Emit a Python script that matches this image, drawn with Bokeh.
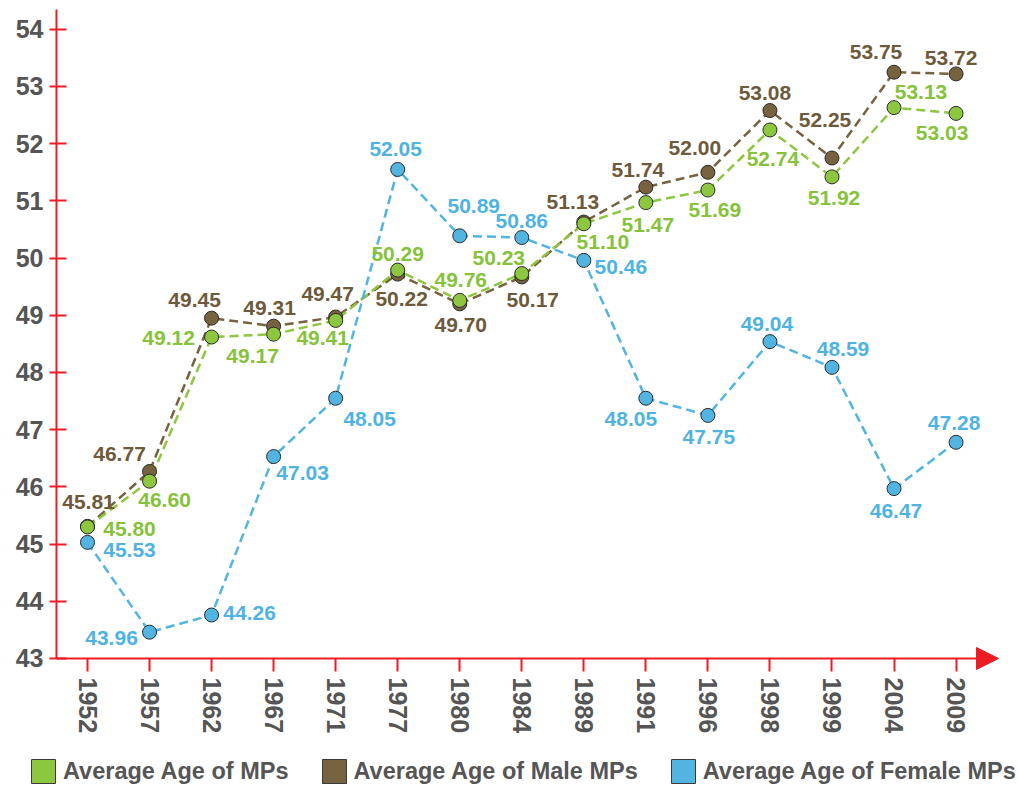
from bokeh.plotting import figure
from bokeh.models import (ColumnDataSource, FixedTicker, Range1d, Arrow, NormalHead,
                          Legend, LegendItem)
from bokeh.core.properties import value
from bokeh.embed import file_html
from bokeh.resources import INLINE

# ---------------- data ----------------
years = ["1952", "1957", "1962", "1967", "1971", "1977", "1980", "1984",
         "1989", "1991", "1996", "1998", "1999", "2004", "2009"]
avg_all = [45.80, 46.60, 49.12, 49.17, 49.41, 50.29, 49.76, 50.23,
           51.10, 51.47, 51.69, 52.74, 51.92, 53.13, 53.03]
avg_male = [45.81, 46.77, 49.45, 49.31, 49.47, 50.22, 49.70, 50.17,
            51.13, 51.74, 52.00, 53.08, 52.25, 53.75, 53.72]
avg_female = [45.53, 43.96, 44.26, 47.03, 48.05, 52.05, 50.89, 50.86,
              50.46, 48.05, 47.75, 49.04, 48.59, 46.47, 47.28]
y_tick_labels = [43, 44, 45, 46, 47, 48, 49, 50, 51, 52, 53, 54]
series_names = ["Average Age of MPs", "Average Age of Male MPs",
                "Average Age of Female MPs"]

# ---------------- styling ----------------
GREEN, BROWN, BLUE = "#8dc63f", "#77623f", "#52b4e0"
GREEN_TXT, BROWN_TXT, BLUE_TXT = "#86c23a", "#6e5a3a", "#4fb3e1"
RED = "#ed1c24"
GRAY = "#555555"
FONT = "Liberation Sans"
# in the original chart each tick label sits half a unit below its data position
TICK_SHIFT = 0.5
Y_BASE = y_tick_labels[0] + TICK_SHIFT        # where the x axis line is drawn
Y_TOP = 54.846                                # top end of the y axis line
X_LEFT = -0.5                                 # where the y axis line is drawn
X_TIP = 14.684                                # tip of the x axis arrow
# the frame covers the whole canvas; axes are placed at fixed locations inside it
XR = (-1.4023, 15.0226)
YR = (41.2622, 55.0035)
NAN = float("nan")

# label placement offsets (screen px) for each point's value label
all_dx = [42, 15, -43, -21, -13, 0, 1, -23, 19, 2, 7, 3, 2, 27, -14]
all_dy = [2, 19, 1, 22, 18, -16, -20, -16, 18, 22, 20, 29, 21, -16, 20]
male_dx = [1, -30, -17, -4, -8, 4, 1, 11, -11, -8, -13, -5, -7, -18, -5]
male_dy = [-24, -17, -18, -18, -23, 25, 21, 23, -20, -17, -24, -18, -38, -20, -16]
fem_dx = [42, -38, 38, 29, 34, -2, 14, 0, 37, -15, 1, -3, 11, 2, -2]
fem_dy = [8, 6, -2, 16, 21, -20, -30, -17, 7, 21, 22, -18, -18, 22, -19]

xs = list(range(len(years)))

p = figure(width=1019, height=786,
           x_range=Range1d(*XR), y_range=Range1d(*YR),
           output_backend="svg", toolbar_location=None,
           min_border_left=0, min_border_top=0, min_border_right=0,
           min_border_bottom=0)
p.outline_line_color = None
p.grid.visible = False
p.background_fill_color = "white"

# axes
p.xaxis.fixed_location = Y_BASE
p.yaxis.fixed_location = X_LEFT
p.xaxis.ticker = FixedTicker(ticks=xs)
p.xaxis.major_label_overrides = {i: y for i, y in enumerate(years)}
p.xaxis.major_label_orientation = "vertical"
p.yaxis.ticker = FixedTicker(ticks=[t + TICK_SHIFT for t in y_tick_labels])
p.yaxis.major_label_overrides = {t + TICK_SHIFT: str(t) for t in y_tick_labels}
for ax in (p.xaxis, p.yaxis):
    ax.axis_line_color = None
    ax.major_tick_line_color = RED
    ax.major_tick_line_width = 2
    ax.minor_tick_line_color = None
    ax.major_label_text_font = FONT
    ax.major_label_text_font_style = "bold"
    ax.major_label_text_font_size = "25px"
    ax.major_label_text_color = GRAY
p.xaxis.major_tick_in = 0
p.xaxis.major_tick_out = 13
p.xaxis.major_label_standoff = 6
p.yaxis.major_tick_in = 10
p.yaxis.major_tick_out = 7
p.yaxis.major_label_standoff = 6

# axis lines: y axis line and x axis line with arrow head
p.segment(x0=[X_LEFT], y0=[Y_BASE], x1=[X_LEFT], y1=[Y_TOP], line_color=RED,
          line_width=2)
p.add_layout(Arrow(x_start=X_LEFT, y_start=Y_BASE, x_end=X_TIP, y_end=Y_BASE,
                   line_color=RED, line_width=2,
                   end=NormalHead(size=22, fill_color=RED, line_color=RED)))

series = [
    (avg_male, BROWN, BROWN_TXT, male_dx, male_dy),
    (avg_all, GREEN, GREEN_TXT, all_dx, all_dy),
    (avg_female, BLUE, BLUE_TXT, fem_dx, fem_dy),
]
sources = []
for vals, col, tcol, dx, dy in series:
    src = ColumnDataSource(dict(x=xs, y=vals, lab=[f"{v:.2f}" for v in vals],
                                dx=dx, dy=dy))
    sources.append(src)
    p.line("x", "y", source=src, line_color=col, line_width=2.5, line_dash="9 5")
for (vals, col, tcol, dx, dy), src in zip(series, sources):
    p.scatter("x", "y", source=src, size=14, fill_color=col,
              line_color="#2a2a2a", line_width=1)
    p.text("x", "y", text="lab", source=src, x_offset="dx", y_offset="dy",
           text_align="center", text_baseline="middle", text_color=tcol,
           text_font=value(FONT), text_font_style="bold", text_font_size="21px")

# legend (swatch renderers hold a single undrawable NaN quad)
leg_colors = [GREEN, BROWN, BLUE]
items = []
for name, col in zip(series_names, leg_colors):
    r = p.quad(left=[NAN], right=[NAN], top=[NAN], bottom=[NAN], fill_color=col,
               line_color="#3a3a3a", line_width=1)
    items.append(LegendItem(label=name, renderers=[r]))
legend = Legend(items=items, orientation="horizontal", location=(28, 0),
                glyph_width=30, glyph_height=30, label_standoff=5, spacing=30,
                padding=0, margin=0, border_line_color=None,
                background_fill_alpha=0, label_text_font=FONT,
                label_text_font_style="bold", label_text_font_size="23.5px",
                label_text_color=GRAY)
p.add_layout(legend)

open("out.html", "w").write(file_html(p, INLINE))
